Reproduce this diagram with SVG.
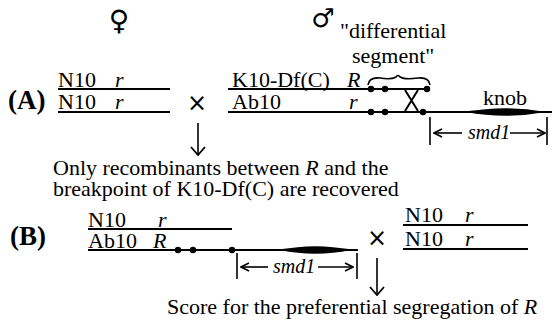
<svg xmlns="http://www.w3.org/2000/svg" width="552" height="325" viewBox="0 0 552 325">
<style>
.t{font-family:"Times New Roman","Liberation Serif",Tinos,"DejaVu Serif",serif;font-size:22px;fill:#000}
.i{font-style:italic}
.b{font-weight:bold;font-size:27px}
.s{font-size:20px;font-style:italic}
.sym{font-family:"DejaVu Sans",sans-serif;fill:#000}
.ln{stroke:#000;stroke-width:2;fill:none}
.thin{stroke:#000;stroke-width:1.6;fill:none}
.dot{fill:#000}
.knob{fill:#000}
</style>
<defs>
<marker id="ah" viewBox="0 0 10 10" refX="9" refY="5" markerWidth="10" markerHeight="10" markerUnits="userSpaceOnUse" orient="auto">
<path d="M1,1 L9,5 L1,9" fill="none" stroke="#000" stroke-width="1.6"/>
</marker>
<marker id="ahd" viewBox="0 0 16 16" refX="15" refY="8" markerWidth="16" markerHeight="16" markerUnits="userSpaceOnUse" orient="auto">
<path d="M7,1 L15,8 L7,15" fill="none" stroke="#000" stroke-width="1.8"/>
</marker>
</defs>
<rect width="552" height="325" fill="#fff"/>

<g id="female-symbol"><text class="sym" x="119" y="30" font-size="28" text-anchor="middle">♀</text></g>
<g id="male-symbol"><text class="sym" x="323" y="27" font-size="26" font-weight="bold" text-anchor="middle">♂</text></g>

<g id="label-A"><text class="t b" font-family="Liberation Serif" x="8" y="109">(A)</text></g>

<g id="A-female">
<text class="t" font-family="Liberation Serif" x="58" y="87">N10</text><text class="t i" font-family="Liberation Serif" x="115" y="87">r</text>
<line class="ln" x1="58" y1="89" x2="170" y2="89"/>
<text class="t" font-family="Liberation Serif" x="58" y="109">N10</text><text class="t i" font-family="Liberation Serif" x="115" y="109">r</text>
<line class="ln" x1="58" y1="112" x2="170" y2="112"/>
</g>

<g id="cross-A"><text class="sym" x="197" y="111" font-size="24" text-anchor="middle">×</text></g>

<g id="A-male">
<text class="t" font-family="Liberation Serif" x="232" y="87">K10-Df(C)</text><text class="t i" font-family="Liberation Serif" x="347" y="87">R</text>
<line class="ln" x1="228" y1="89" x2="430" y2="89"/>
<text class="t" font-family="Liberation Serif" x="232" y="109">Ab10</text><text class="t i" font-family="Liberation Serif" x="349" y="109">r</text>
<line class="ln" x1="228" y1="112" x2="552" y2="112"/>
<circle class="dot" cx="371" cy="89" r="3.2"/><circle class="dot" cx="385" cy="89" r="3.2"/><circle class="dot" cx="427" cy="89" r="3.2"/>
<circle class="dot" cx="371" cy="112" r="3.2"/><circle class="dot" cx="385" cy="112" r="3.2"/><circle class="dot" cx="423" cy="112" r="3.2"/>
<path class="ln" d="M405,90 L418,111 M418,90 L405,111"/>
<path class="knob" d="M466,112 Q505,104.5 546,112 Q505,119.5 466,112 Z"/>
</g>

<g id="differential-segment">
<text class="t" font-family="Liberation Serif" x="340" y="38">"differential</text>
<text class="t" font-family="Liberation Serif" x="352" y="63">segment"</text>
<path class="thin" d="M368,85 Q369,77 380,78 Q391,80 396,77 Q398,74 400,77 Q405,80 418,78 Q429,77 430,85"/>
</g>

<g id="knob-A"><text class="t" font-family="Liberation Serif" x="483" y="105">knob</text></g>

<g id="smd1-A">
<line class="thin" x1="430" y1="117" x2="430" y2="145"/>
<line class="thin" x1="547" y1="117" x2="547" y2="145"/>
<line class="thin" x1="462" y1="133" x2="434" y2="133" marker-end="url(#ah)"/>
<line class="thin" x1="510" y1="133" x2="545" y2="133" marker-end="url(#ah)"/>
<text class="t s" font-family="Liberation Serif" x="468" y="139">smd1</text>
</g>

<g id="result-A">
<text class="t" font-family="Liberation Serif" x="53" y="175">Only recombinants between <tspan class="i">R</tspan> and the</text>
<text class="t" font-family="Liberation Serif" x="53" y="196">breakpoint of K10-Df(C) are recovered</text>
</g>

<g id="label-B"><text class="t b" font-family="Liberation Serif" x="10" y="245">(B)</text></g>

<g id="B-female">
<text class="t" font-family="Liberation Serif" x="88" y="227">N10</text><text class="t i" font-family="Liberation Serif" x="158" y="227">r</text>
<line class="ln" x1="88" y1="229" x2="232" y2="229"/>
<text class="t" font-family="Liberation Serif" x="88" y="248">Ab10</text><text class="t i" font-family="Liberation Serif" x="153" y="248">R</text>
<line class="ln" x1="88" y1="250" x2="358" y2="250"/>
<circle class="dot" cx="178" cy="250" r="3.2"/><circle class="dot" cx="193" cy="250" r="3.2"/><circle class="dot" cx="232" cy="250" r="3.2"/>
<path class="knob" d="M280,250 Q315,242.5 351,250 Q315,257.5 280,250 Z"/>
</g>

<g id="smd1-B">
<line class="thin" x1="237" y1="253" x2="237" y2="279"/>
<line class="thin" x1="357" y1="253" x2="357" y2="279"/>
<line class="thin" x1="268" y1="267" x2="241" y2="267" marker-end="url(#ah)"/>
<line class="thin" x1="318" y1="267" x2="353" y2="267" marker-end="url(#ah)"/>
<text class="t s" font-family="Liberation Serif" x="273" y="273">smd1</text>
</g>

<g id="cross-B"><text class="sym" x="377" y="246" font-size="24" text-anchor="middle">×</text></g>

<g id="B-male">
<text class="t" font-family="Liberation Serif" x="405" y="222">N10</text><text class="t i" font-family="Liberation Serif" x="465" y="222">r</text>
<line class="ln" x1="403" y1="225" x2="528" y2="225"/>
<text class="t" font-family="Liberation Serif" x="405" y="246">N10</text><text class="t i" font-family="Liberation Serif" x="465" y="246">r</text>
<line class="ln" x1="403" y1="249" x2="528" y2="249"/>
</g>

<g id="result-B">
<text class="t" font-family="Liberation Serif" x="167" y="314">Score for the preferential segregation of <tspan class="i">R</tspan></text>
</g>

<g id="connectors">
<line class="thin" x1="198" y1="123" x2="198" y2="155" marker-end="url(#ahd)"/>
<line class="thin" x1="377" y1="258" x2="377" y2="295" marker-end="url(#ahd)"/>
</g>
</svg>
